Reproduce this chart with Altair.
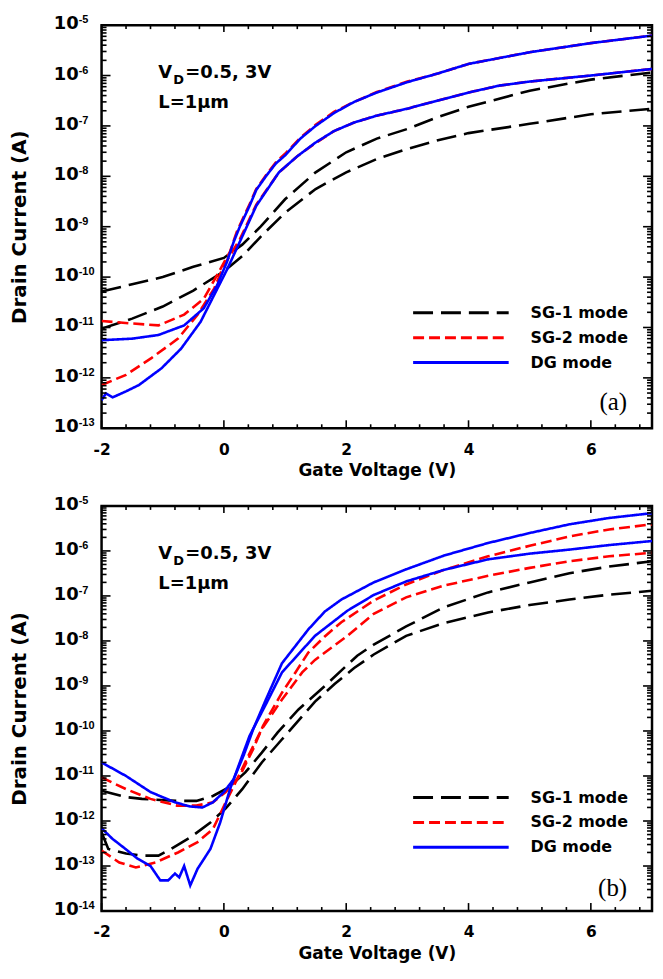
import altair as alt
import pandas as pd

# ---------------- data ----------------
MODES = ["SG-1 mode", "SG-2 mode", "DG mode"]
VD = ["3V", "0.5V"]

# Panel (a)
A_SG1_3_V = [-2, -1.5, -1.0, -0.5, 0, 0.3, 0.6, 1.0, 1.5, 2.0, 2.5, 3.0, 3.5, 4.0, 5.0, 6.0, 7.0]
A_SG1_3_I = [5.2e-11, 7.2e-11, 1.0e-10, 1.6e-10, 2.4e-10, 4.4e-10, 1.0e-9, 3.5e-9, 1.2e-8, 3.0e-8,
             5.6e-8, 8.7e-8, 1.5e-7, 2.4e-7, 5.0e-7, 8.3e-7, 1.15e-6]
A_SG1_05_V = [-2, -1.5, -1.0, -0.5, 0, 0.3, 0.6, 1.0, 1.5, 2.0, 2.5, 3.0, 3.5, 4.0, 5.0, 6.0, 7.0]
A_SG1_05_I = [9.5e-12, 1.5e-11, 2.6e-11, 5.4e-11, 1.3e-10, 2.6e-10, 6.3e-10, 1.9e-9, 5.6e-9, 1.2e-8,
              2.2e-8, 3.5e-8, 5.2e-8, 7.2e-8, 1.1e-7, 1.7e-7, 2.2e-7]
A_SG2_3_V = [-2, -1.5, -1.07, -0.65, -0.33, -0.11, 0.1, 0.21, 0.42, 0.53, 0.7, 0.85, 1.0, 1.25, 1.5,
             1.8, 2.13, 2.5, 3.0, 3.5, 4.0, 5.0, 6.0, 7.0]
A_SG2_3_I = [1.35e-11, 1.2e-11, 1.1e-11, 1.8e-11, 3.7e-11, 1.1e-10, 3.2e-10, 7.9e-10, 2.8e-9, 5.6e-9,
             1.1e-8, 1.9e-8, 2.8e-8, 5.8e-8, 1.05e-7, 1.9e-7, 3.0e-7, 4.7e-7, 7.6e-7, 1.1e-6, 1.7e-6,
             2.9e-6, 4.4e-6, 6.2e-6]
A_SG2_05_V = [-2, -1.6, -1.18, -0.75, -0.43, -0.16, 0.0, 0.26, 0.53, 0.9, 1.2, 1.49, 1.8, 2.13, 2.5,
              3.0, 3.5, 4.0, 4.5, 5.0, 6.0, 7.0]
A_SG2_05_I = [7.2e-13, 1.15e-12, 2.5e-12, 6.0e-12, 1.8e-11, 5.9e-11, 1.7e-10, 5.6e-10, 2.75e-9, 1.2e-8,
              2.5e-8, 4.5e-8, 7.9e-8, 1.17e-7, 1.6e-7, 2.2e-7, 3.2e-7, 4.6e-7, 6.3e-7, 7.6e-7, 1.0e-6,
              1.35e-6]
A_DG_3_V = [-2, -1.5, -1.07, -0.65, -0.33, -0.11, 0.05, 0.16, 0.26, 0.42, 0.53, 0.7, 0.85, 1.0, 1.25,
            1.5, 1.8, 2.13, 2.5, 3.0, 3.5, 4.0, 5.0, 6.0, 7.0]
A_DG_3_I = [5.6e-12, 6.0e-12, 7.1e-12, 1.1e-11, 2.4e-11, 6.9e-11, 2.0e-10, 5.0e-10, 1.0e-9, 2.6e-9,
            5.4e-9, 1.05e-8, 1.8e-8, 2.6e-8, 5.6e-8, 1.0e-7, 1.8e-7, 3.0e-7, 4.6e-7, 7.4e-7, 1.1e-6,
            1.7e-6, 2.9e-6, 4.4e-6, 6.2e-6]
A_DG_05_V = [-2, -1.93, -1.82, -1.6, -1.39, -1.02, -0.7, -0.38, -0.16, 0.05, 0.26, 0.53, 0.9, 1.2,
             1.49, 1.8, 2.13, 2.5, 3.0, 3.5, 4.0, 4.5, 5.0, 6.0, 7.0]
A_DG_05_I = [3.6e-13, 4.9e-13, 4.1e-13, 5.4e-13, 7.2e-13, 1.55e-12, 3.8e-12, 1.3e-11, 4.4e-11, 1.4e-10,
             5.0e-10, 2.6e-9, 1.2e-8, 2.5e-8, 4.6e-8, 7.9e-8, 1.17e-7, 1.6e-7, 2.2e-7, 3.2e-7, 4.6e-7,
             6.3e-7, 7.6e-7, 1.0e-6, 1.35e-6]

# Panel (b)
B_SG1_3_V = [-2, -1.6, -1.34, -0.77, -0.45, -0.18, 0.08, 0.35, 0.62, 0.88, 1.22, 1.65, 2.18, 2.45,
             2.98, 3.6, 4.32, 5.0, 5.65, 6.3, 7.0]
B_SG1_3_I = [4.7e-12, 3.4e-12, 3.1e-12, 2.8e-12, 2.8e-12, 3.6e-12, 5.6e-12, 1.2e-11, 3.3e-11, 9.3e-11,
             3.0e-10, 1.0e-9, 4.7e-9, 8.3e-9, 2.1e-8, 5.6e-8, 1.2e-7, 2.0e-7, 3.2e-7, 4.5e-7, 5.9e-7]
B_SG1_05_V = [-2, -1.89, -1.6, -1.34, -1.07, -0.86, -0.54, -0.22, 0.03, 0.3, 0.62, 0.94, 1.49, 1.81,
              2.13, 2.45, 2.98, 3.6, 4.32, 5.0, 5.65, 6.3, 7.0]
B_SG1_05_I = [5.6e-13, 2.4e-13, 1.9e-13, 1.7e-13, 1.7e-13, 2.4e-13, 4.4e-13, 9.3e-13, 1.9e-12, 5.1e-12,
              2.0e-11, 6.3e-11, 4.5e-10, 1.1e-9, 2.5e-9, 5.0e-9, 1.3e-8, 2.5e-8, 4.3e-8, 6.3e-8, 8.3e-8,
              1.07e-7, 1.3e-7]
B_SG2_3_V = [-2, -1.6, -1.2, -0.77, -0.45, -0.18, 0.03, 0.26, 0.48, 0.64, 0.95, 1.17, 1.38, 1.65, 1.92,
             2.45, 2.98, 3.6, 4.32, 5.0, 5.65, 6.3, 7.0]
B_SG2_3_I = [9.3e-12, 5.1e-12, 3.1e-12, 2.2e-12, 2.2e-12, 2.6e-12, 4.4e-12, 1.0e-11, 4.0e-11, 1.3e-10,
             7.1e-10, 2.0e-9, 5.5e-9, 1.26e-8, 2.6e-8, 7.9e-8, 1.8e-7, 3.8e-7, 7.6e-7, 1.3e-6, 2.1e-6,
             3.0e-6, 3.9e-6]
B_SG2_05_V = [-2, -1.71, -1.44, -1.12, -0.75, -0.43, -0.18, 0.03, 0.19, 0.4, 0.62, 0.95, 1.28, 1.49,
              2.02, 2.45, 2.98, 3.6, 4.32, 5.0, 5.65, 6.3, 7.0]
B_SG2_05_I = [2.2e-13, 1.2e-13, 9.3e-14, 1.2e-13, 2.0e-13, 3.4e-13, 6.6e-13, 2.6e-12, 7.2e-12, 2.8e-11,
              1.1e-10, 5.0e-10, 2.0e-9, 3.8e-9, 1.3e-8, 4.0e-8, 9.3e-8, 1.7e-7, 2.8e-7, 4.2e-7, 5.9e-7,
              7.6e-7, 9.1e-7]
B_DG_3_V = [-2, -1.6, -1.2, -0.8, -0.55, -0.35, -0.18, 0.0, 0.16, 0.32, 0.48, 0.69, 0.95, 1.38, 1.65,
            1.92, 2.45, 2.98, 3.6, 4.32, 5.0, 5.65, 6.3, 7.0]
B_DG_3_I = [2.0e-11, 1.0e-11, 4.4e-12, 2.6e-12, 2.1e-12, 2.0e-12, 2.6e-12, 4.4e-12, 8.5e-12, 2.8e-11,
            1.1e-10, 5.1e-10, 3.2e-9, 1.8e-8, 4.5e-8, 8.3e-8, 2.0e-7, 3.9e-7, 7.9e-7, 1.5e-6, 2.5e-6,
            3.9e-6, 5.4e-6, 6.9e-6]
B_DG_05_V = [-2, -1.82, -1.61, -1.41, -1.2, -1.04, -0.91, -0.8, -0.73, -0.65, -0.55, -0.43, -0.22,
             -0.06, 0.1, 0.26, 0.42, 0.69, 0.95, 1.49, 2.02, 2.45, 2.98, 3.6, 4.32, 5.0, 5.65, 6.3, 7.0]
B_DG_05_I = [6.9e-13, 4.0e-13, 2.4e-13, 1.45e-13, 1.0e-13, 4.8e-14, 4.8e-14, 6.8e-14, 5.6e-14, 1.0e-13,
             3.7e-14, 8.7e-14, 2.4e-13, 9.3e-13, 5.1e-12, 2.0e-11, 7.8e-11, 4.0e-10, 2.0e-9, 1.3e-8,
             4.7e-8, 1.05e-7, 2.1e-7, 3.8e-7, 6.5e-7, 8.7e-7, 1.07e-6, 1.35e-6, 1.66e-6]

# axis ticks / labels
X_MAJOR = [-2, 0, 2, 4, 6]
X_MINOR = [-1.6, -1.2, -0.8, -0.4, 0.4, 0.8, 1.2, 1.6, 2.4, 2.8, 3.2, 3.6, 4.4, 4.8, 5.2, 5.6, 6.4, 6.8]
A_EXP = [-13, -12, -11, -10, -9, -8, -7, -6, -5]
B_EXP = [-14, -13, -12, -11, -10, -9, -8, -7, -6, -5]
MINOR_MULT = [2, 3, 4, 5, 6, 7, 8, 9]

ANNOT_VD = ["V", "D", "=0.5, 3V"]
ANNOT_L = "L=1\u03bcm"
TAGS = ["(a)", "(b)"]
X_TITLE = "Gate Voltage (V)"
Y_TITLE = "Drain Current (A)"

# ---------------- styles ----------------
COLORS = {"SG-1 mode": "#000000", "SG-2 mode": "#ff0000", "DG mode": "#0000ff"}
DASHES = {"SG-1 mode": [20, 8], "SG-2 mode": [11, 5], "DG mode": [1, 0]}
SANS = "DejaVu Sans"
W = 553


def curves_df(curves):
    rows = []
    for (mode, vd), (vs, cur) in curves.items():
        for k, (v, i) in enumerate(zip(vs, cur)):
            rows.append({"mode": mode, "vd": vd, "V": v, "I": i, "k": k})
    return pd.DataFrame(rows)


def make_panel(curves, exps, H, leg_y0, tag, tag_y):
    decades = [10.0 ** e for e in exps]
    xs = alt.Scale(domain=[-2, 7], nice=False, zero=False)
    ys = alt.Scale(type="log", domain=[decades[0], decades[-1]], nice=False)
    xa = alt.Axis(values=X_MAJOR, ticks=False, domain=False, grid=False,
                  labelFont=SANS, labelFontWeight="bold", labelFontSize=15.5,
                  labelColor="black", labelPadding=14, labelFlush=False,
                  labelOverlap=False,
                  labelExpr="replace(datum.label, '\u2212', '-')",
                  title=X_TITLE, titleFont=SANS, titleFontWeight="bold",
                  titleFontSize=17, titleColor="black", titlePadding=5)
    ya = alt.Axis(labels=False, ticks=False, domain=False, grid=False,
                  title=Y_TITLE, titleFont=SANS, titleFontWeight="bold",
                  titleFontSize=20, titleColor="black", titlePadding=72)
    df = curves_df(curves)

    layers = []
    for mode in MODES:
        sub = df[df["mode"] == mode]
        layers.append(
            alt.Chart(sub).mark_line(color=COLORS[mode], strokeDash=DASHES[mode],
                                     strokeWidth=2.6, clip=True)
            .encode(x=alt.X("V:Q", scale=xs, axis=xa, title=X_TITLE),
                    y=alt.Y("I:Q", scale=ys, axis=ya, title=Y_TITLE),
                    detail="vd:N", order="k:Q")
        )

    dec_df = pd.DataFrame({"v": decades, "base": ["10"] * len(decades),
                           "exp": [str(e) for e in exps]})
    minor_df = pd.DataFrame({"v": [m * d for d in decades[:-1] for m in MINOR_MULT]})
    xmaj_df = pd.DataFrame({"v": X_MAJOR})
    xmin_df = pd.DataFrame({"v": X_MINOR})

    def yrule(data, x1, x2):
        return alt.Chart(data).mark_rule(color="black", strokeWidth=1.6).encode(
            y=alt.Y("v:Q", scale=ys, axis=ya, title=Y_TITLE), x=alt.value(x1), x2=alt.value(x2))

    def xrule(data, y1, y2):
        return alt.Chart(data).mark_rule(color="black", strokeWidth=1.6).encode(
            x=alt.X("v:Q", scale=xs, axis=xa, title=X_TITLE), y=alt.value(y1), y2=alt.value(y2))

    layers += [
        yrule(dec_df, 0, 9), yrule(dec_df, W, W - 9),
        yrule(minor_df, 0, 5), yrule(minor_df, W, W - 5),
        xrule(xmaj_df, H, H - 8), xrule(xmaj_df, 0, 7),
        xrule(xmin_df, H, H - 4), xrule(xmin_df, 0, 4),
    ]

    # y tick labels: "10" with superscript exponent
    layers.append(alt.Chart(dec_df).mark_text(
        align="right", baseline="middle", font=SANS, fontWeight="bold", fontSize=18,
        dy=-1, color="black").encode(
        y=alt.Y("v:Q", scale=ys, axis=ya, title=Y_TITLE), x=alt.value(-23), text="base:N"))
    layers.append(alt.Chart(dec_df).mark_text(
        align="left", baseline="middle", font="Liberation Sans", fontWeight="bold",
        fontSize=11, dy=-5, color="black").encode(
        y=alt.Y("v:Q", scale=ys, axis=ya, title=Y_TITLE), x=alt.value(-23), text="exp:N"))

    # legend (anchored to the right frame, as in the original)
    leg_x = W - 240
    for i, mode in enumerate(MODES):
        yy = leg_y0 + 25 * i
        one = pd.DataFrame({"t": [mode]})
        layers.append(alt.Chart(one).mark_rule(
            color=COLORS[mode], strokeDash=DASHES[mode], strokeWidth=3).encode(
            x=alt.value(leg_x), x2=alt.value(leg_x + 96), y=alt.value(yy)))
        layers.append(alt.Chart(one).mark_text(
            align="left", baseline="middle", font=SANS, fontWeight="bold",
            fontSize=16, color="black").encode(
            x=alt.value(leg_x + 118), y=alt.value(yy), text="t:N"))

    # annotations
    def txt(t, x, y, size, font=SANS, weight="bold", align="left"):
        return alt.Chart(pd.DataFrame({"t": [t]})).mark_text(
            align=align, baseline="alphabetic", font=font, fontWeight=weight,
            fontSize=size, color="black").encode(
            x=alt.value(x), y=alt.value(y), text="t:N")

    layers += [
        txt(ANNOT_VD[0], 57, 53, 18),
        txt(ANNOT_VD[1], 72, 59, 13),
        txt(ANNOT_VD[2], 84, 53, 18),
        txt(ANNOT_L, 57, 83, 18),
        txt(tag, W - 25, tag_y, 25, font="Liberation Serif", weight="normal", align="right"),
    ]

    return alt.layer(*layers).properties(width=W, height=H)


curves_a = {
    ("SG-1 mode", "3V"): (A_SG1_3_V, A_SG1_3_I),
    ("SG-1 mode", "0.5V"): (A_SG1_05_V, A_SG1_05_I),
    ("SG-2 mode", "3V"): (A_SG2_3_V, A_SG2_3_I),
    ("SG-2 mode", "0.5V"): (A_SG2_05_V, A_SG2_05_I),
    ("DG mode", "3V"): (A_DG_3_V, A_DG_3_I),
    ("DG mode", "0.5V"): (A_DG_05_V, A_DG_05_I),
}
curves_b = {
    ("SG-1 mode", "3V"): (B_SG1_3_V, B_SG1_3_I),
    ("SG-1 mode", "0.5V"): (B_SG1_05_V, B_SG1_05_I),
    ("SG-2 mode", "3V"): (B_SG2_3_V, B_SG2_3_I),
    ("SG-2 mode", "0.5V"): (B_SG2_05_V, B_SG2_05_I),
    ("DG mode", "3V"): (B_DG_3_V, B_DG_3_I),
    ("DG mode", "0.5V"): (B_DG_05_V, B_DG_05_I),
}

panel_a = make_panel(curves_a, A_EXP, 405, 289, TAGS[0], 387)
panel_b = make_panel(curves_b, B_EXP, 407, 293, TAGS[1], 392)

chart = (
    alt.vconcat(panel_a, panel_b, spacing=13)
    .properties(padding={"left": 0, "top": 2, "right": 0, "bottom": 0}, background="white")
    .configure_view(stroke="black", strokeWidth=2.5)
)

chart.save("out.html", embed_options={"renderer": "svg", "actions": False})
